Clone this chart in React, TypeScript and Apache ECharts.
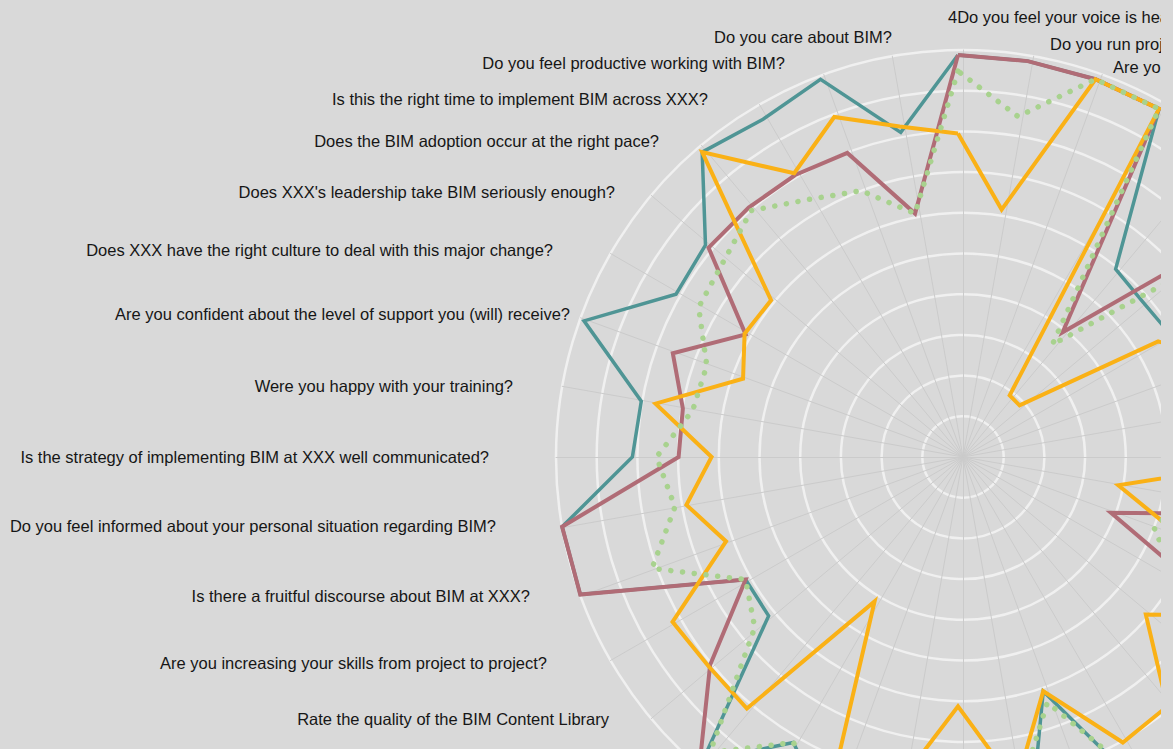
import React, { useEffect, useRef } from 'react';
import * as echarts from 'echarts';

// 36 survey questions, counter-clockwise from the top
const questions: string[] = [
  '4Do you feel your voice is heard?',
  'Do you care about BIM?',
  'Do you feel productive working with BIM?',
  'Is this the right time to implement BIM across XXX?',
  'Does the BIM adoption occur at the right pace?',
  "Does XXX's leadership take BIM seriously enough?",
  'Does XXX have the right culture to deal with this major change?',
  'Are you confident about the level of support you (will) receive?',
  'Were you happy with your training?',
  'Is the strategy of implementing BIM at XXX well communicated?',
  'Do you feel informed about your personal situation regarding BIM?',
  'Is there a fruitful discourse about BIM at XXX?',
  'Are you increasing your skills from project to project?',
  'Rate the quality of the BIM Content Library',
  'Question 15', 'Question 16', 'Question 17', 'Question 18', 'Question 19',
  'Question 20', 'Question 21', 'Question 22', 'Question 23', 'Question 24',
  'Question 25', 'Question 26', 'Question 27', 'Question 28', 'Question 29',
  'Question 30', 'Question 31', 'Question 32', 'Question 33',
  'Question 34',
  'Are you satisfied with BIM?',
  'Do you run projects with BIM?',
];

const maxValue = 10;

const teal: number[] = [10, 8.2, 10, 9.7, 9.9, 8.2, 8.1, 9.9, 8.0, 8.1, 10, 10, 6.1, 6.15, 9.9, 8.2, 9.4, 9.5, 9.5, 10, 6.2, 10, 9, 9, 9, 9, 9, 9, 9, 8, 6.1, 6.0, 6.1, 10, 10, 10];
const mauve: number[] = [10, 6.15, 8.05, 8.1, 8.1, 8.1, 6.1, 7.55, 6.95, 6.95, 10, 10, 6.1, 8.05, 10, 9, 9, 9, 9, 9, 9, 9, 9, 9, 7.8, 4.05, 8.2, 8, 8, 8, 8, 7.9, 4.05, 10, 10, 10];
const amber: number[] = [8.05, 8.35, 9.0, 8.15, 9.9, 6.07, 6.13, 5.69, 7.64, 6.13, 6.86, 6.14, 8.2, 8.1, 8.17, 4.15, 10, 8.2, 6.2, 8.3, 6.2, 8.2, 8.1, 6.1, 7.9, 6.0, 4.05, 8.4, 7, 7, 5.75, 2.0, 2.0, 10, 10, 6.25];
const green: number[] = [9.6, 6.15, 7.05, 7.4, 8.0, 7.6, 7.45, 6.65, 6.7, 7.5, 7.15, 8.1, 6.1, 6.6, 9.6, 8.2, 9, 9, 9, 8.6, 6.5, 9.4, 9, 8, 6.3, 5.2, 5.7, 8, 8, 8, 8, 6.7, 3.65, 10, 10, 8.6];

// label placement (chart pixel coords) for the questions that are in view
const labelLayout: { i: number; x: number; y: number; align: 'left' | 'right' }[] = [
  { i: 0, x: 940, y: 9, align: 'left' },
  { i: 35, x: 1042, y: 36, align: 'left' },
  { i: 34, x: 1105, y: 59, align: 'left' },
  { i: 1, x: 884, y: 29, align: 'right' },
  { i: 2, x: 777, y: 55, align: 'right' },
  { i: 3, x: 700, y: 91, align: 'right' },
  { i: 4, x: 651, y: 133, align: 'right' },
  { i: 5, x: 607, y: 184, align: 'right' },
  { i: 6, x: 545, y: 242, align: 'right' },
  { i: 7, x: 562, y: 306, align: 'right' },
  { i: 8, x: 505, y: 378, align: 'right' },
  { i: 9, x: 481, y: 449, align: 'right' },
  { i: 10, x: 488, y: 518, align: 'right' },
  { i: 11, x: 522, y: 588, align: 'right' },
  { i: 12, x: 539, y: 655, align: 'right' },
  { i: 13, x: 601, y: 711, align: 'right' },
];

export default function App() {
  const ref = useRef<HTMLDivElement>(null);

  useEffect(() => {
    if (!ref.current) return;
    const chart = echarts.init(ref.current, undefined, { renderer: 'svg' });
    const indicator = questions.map((name) => ({ name, min: 0, max: maxValue }));
    const hidden = {
      axisName: { show: false },
      axisLine: { show: false },
      splitLine: { show: false },
      splitArea: { show: false },
      axisLabel: { show: false },
      axisTick: { show: false },
    };
    const gridCenter = [955, 449];
    const gridRadius = 407;

    const mk = (name: string, values: number[], color: string, width: number, dotted = false) => ({
      type: 'radar',
      name,
      radarIndex: 2,
      symbol: 'none',
      silent: true,
      data: [{ value: values, name }],
      lineStyle: dotted
        ? { color, width, type: [0.1, 11.7], cap: 'round', join: 'round' }
        : { color, width, type: 'solid', join: 'miter', miterLimit: 20 },
    });

    chart.setOption({
      animation: false,
      backgroundColor: '#d9d9d9',
      radar: [
        {
          z: 0,
          center: gridCenter,
          radius: gridRadius,
          startAngle: 90,
          shape: 'circle',
          splitNumber: 10,
          indicator,
          ...hidden,
          splitLine: { show: true, lineStyle: { color: '#f0f0f0', width: 2.5 } },
        },
        {
          z: 1,
          center: gridCenter,
          radius: gridRadius,
          startAngle: 90,
          shape: 'circle',
          splitNumber: 10,
          indicator,
          ...hidden,
          axisLine: { show: true, lineStyle: { color: '#cbcbcb', width: 1 } },
        },
        {
          z: 0,
          center: [950, 449],
          radius: 402,
          startAngle: 90,
          shape: 'circle',
          splitNumber: 10,
          indicator,
          ...hidden,
        },
      ],
      series: [
        mk('Group A', teal, '#4f9595', 3.5),
        mk('Group B', mauve, '#b06c76', 4),
        mk('Group C', amber, '#fab116', 4),
        mk('Group D', green, '#a8d28e', 5.5, true),
      ],
      graphic: labelLayout.map((l) => ({
        type: 'text',
        x: l.x,
        y: l.y,
        silent: true,
        z: 10,
        style: {
          text: questions[l.i],
          fill: '#161616',
          font: '16.5px "Liberation Sans", Arial, sans-serif',
          align: l.align,
          verticalAlign: 'middle',
          textAlign: l.align,
          textVerticalAlign: 'middle',
        },
      })),
    });
    return () => chart.dispose();
  }, []);

  return (
    <div style={{ position: 'fixed', left: 0, top: 0, width: '100vw', height: '100vh', background: '#d9d9d9', overflow: 'hidden' }}>
      <div ref={ref} style={{ position: 'absolute', left: 8, top: 8, width: 1153, height: 741 }} />
    </div>
  );
}
